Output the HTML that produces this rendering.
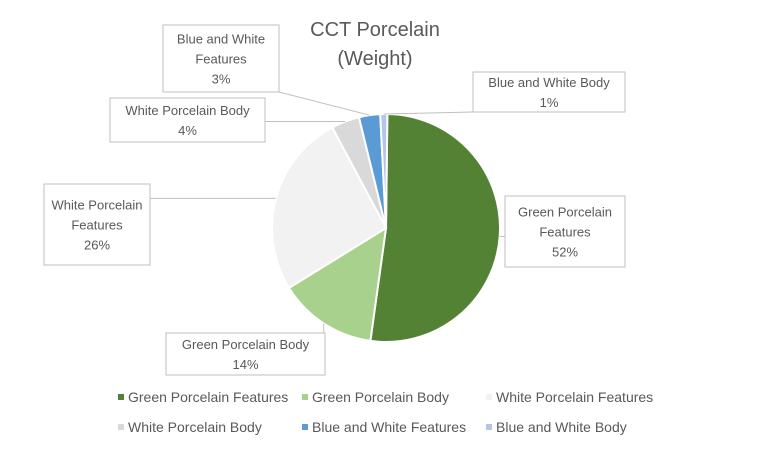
<!DOCTYPE html>
<html><head><meta charset="utf-8"><style>
body{margin:0;background:#fff;font-family:"Liberation Sans",sans-serif;}
svg text{font-family:"Liberation Sans",sans-serif;fill:#595959;}
</style></head><body>
<svg id="chart" width="767" height="449">
<text x="375" y="36" font-size="20" text-anchor="middle">CCT Porcelain</text>
<text x="375" y="65" font-size="20" text-anchor="middle">(Weight)</text>
<g id="slices"></g><g id="labels"></g><g id="legend"></g>
</svg>
<script>
const categories=["Green Porcelain Features","Green Porcelain Body","White Porcelain Features","White Porcelain Body","Blue and White Features","Blue and White Body"];
const values=[52,14,26,4,3,1];
const colors=["#548235","#a9d18e","#f2f2f2","#d9d9d9","#5b9bd5","#b4c7e7"];
const boxes=[[505,196,120,71,["Green Porcelain","Features"]],[166,333,159,42,["Green Porcelain Body"]],[44,184,106,81,["White Porcelain","Features"]],[110,98,155,44,["White Porcelain Body"]],[163,25,116,67,["Blue and White","Features"]],[473,72,152,40,["Blue and White Body"]]];
const NS="http://www.w3.org/2000/svg";
const cx=386,cy=228,r=114;
const total=values.reduce((a,b)=>a+b,0);
function pt(a,rr){return [cx+rr*Math.sin(a),cy-rr*Math.cos(a)];}
const sg=document.getElementById('slices'),lg=document.getElementById('labels'),leg=document.getElementById('legend');
let a0=0.012;
values.forEach((v,i)=>{
 const a1=a0+v/total*2*Math.PI;
 const p0=pt(a0,r),p1=pt(a1,r);
 const path=document.createElementNS(NS,'path');
 path.setAttribute('d',`M${cx},${cy}L${p0[0]},${p0[1]}A${r},${r} 0 ${a1-a0>Math.PI?1:0} 1 ${p1[0]},${p1[1]}Z`);
 path.setAttribute('fill',colors[i]);path.setAttribute('stroke','#fff');path.setAttribute('stroke-width','2');
 
 
 sg.appendChild(path);
 const am=(a0+a1)/2,pm=pt(am,r);
 const b=boxes[i];
 const bx=b[0],by=b[1],bw=b[2],bh=b[3];
 const ex=Math.min(Math.max(pm[0],bx),bx+bw),ey=Math.min(Math.max(pm[1],by),by+bh);
 const ln=document.createElementNS(NS,'polyline');
 ln.setAttribute('points',`${ex},${ey} ${pm[0]},${pm[1]}`);
 ln.setAttribute('stroke','#bfbfbf');ln.setAttribute('fill','none');
 
 
 lg.appendChild(ln);
 const rect=document.createElementNS(NS,'rect');
 rect.setAttribute('x',bx);rect.setAttribute('y',by);rect.setAttribute('width',bw);rect.setAttribute('height',bh);
 rect.setAttribute('fill','#fff');rect.setAttribute('stroke','#bfbfbf');
 
 
 lg.appendChild(rect);
 const lines=b[4].concat([Math.round(v/total*100)+'%']);
 const lh=20,start=by+bh/2-(lines.length-1)*lh/2+5;
 lines.forEach((s,k)=>{
  const t=document.createElementNS(NS,'text');
  t.setAttribute('x',bx+bw/2);t.setAttribute('y',start+k*lh);t.setAttribute('font-size','13');t.setAttribute('text-anchor','middle');
  t.textContent=s;
  
  
  lg.appendChild(t);
 });
 a0=a1;
});
const legPos=[[118,402],[302,402],[486,402],[118,432],[302,432],[486,432]];
categories.forEach((c,i)=>{
 const g=document.createElementNS(NS,'g');
 
 
 const sq=document.createElementNS(NS,'rect');
 sq.setAttribute('x',legPos[i][0]);sq.setAttribute('y',legPos[i][1]-8);sq.setAttribute('width',6);sq.setAttribute('height',6);sq.setAttribute('fill',colors[i]);
 g.appendChild(sq);
 const t=document.createElementNS(NS,'text');
 t.setAttribute('x',legPos[i][0]+10);t.setAttribute('y',legPos[i][1]);t.setAttribute('font-size','14');
 t.textContent=c;g.appendChild(t);
 leg.appendChild(g);
});
</script>
</body></html>
